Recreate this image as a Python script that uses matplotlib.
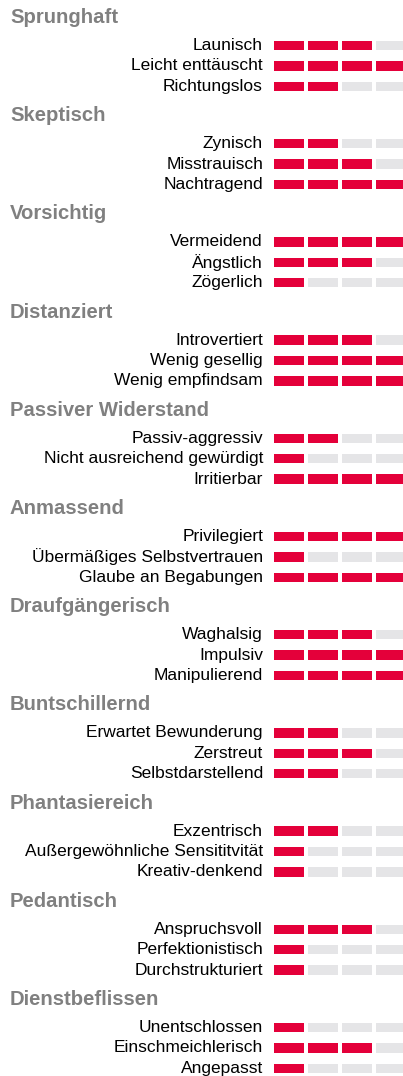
import matplotlib
matplotlib.use("Agg")
from matplotlib import pyplot as plt

groups = ["Sprunghaft", "Skeptisch", "Vorsichtig", "Distanziert", "Passiver Widerstand",
          "Anmassend", "Draufgängerisch", "Buntschillernd", "Phantasiereich",
          "Pedantisch", "Dienstbeflissen"]
items = [
    ["Launisch", "Leicht enttäuscht", "Richtungslos"],
    ["Zynisch", "Misstrauisch", "Nachtragend"],
    ["Vermeidend", "Ängstlich", "Zögerlich"],
    ["Introvertiert", "Wenig gesellig", "Wenig empfindsam"],
    ["Passiv-aggressiv", "Nicht ausreichend gewürdigt", "Irritierbar"],
    ["Privilegiert", "Übermäßiges Selbstvertrauen", "Glaube an Begabungen"],
    ["Waghalsig", "Impulsiv", "Manipulierend"],
    ["Erwartet Bewunderung", "Zerstreut", "Selbstdarstellend"],
    ["Exzentrisch", "Außergewöhnliche Sensititvität", "Kreativ-denkend"],
    ["Anspruchsvoll", "Perfektionistisch", "Durchstrukturiert"],
    ["Unentschlossen", "Einschmeichlerisch", "Angepasst"],
]
scores = [
    [3, 4, 2],
    [2, 3, 4],
    [4, 3, 1],
    [3, 4, 4],
    [2, 1, 4],
    [4, 1, 4],
    [3, 4, 4],
    [2, 3, 2],
    [2, 1, 1],
    [3, 1, 1],
    [1, 3, 1],
]
max_score = 4

RED = "#e4003a"
GREY = "#e5e5e7"
HEAD = "#808080"

plt.rcParams["font.family"] = ["Liberation Sans", "DejaVu Sans"]

fig = plt.figure(figsize=(4.03, 10.76), dpi=100)
ax = fig.add_axes([0, 0, 1, 1])
ax.set_xlim(0, 403)
ax.set_ylim(1076, 0)
ax.axis("off")

group_step = 98.2
seg_w, seg_pitch, x0 = 30, 34, 274

for g, name in enumerate(groups):
    yh = 17.5 + g * group_step
    ax.text(10, yh, name, fontsize=14.6, fontweight="bold", color=HEAD,
            ha="left", va="center")
    for i, (lab, s) in enumerate(zip(items[g], scores[g])):
        y = yh + 28 + i * 20.4
        ax.text(263, y, lab, fontsize=12.5, color="black", ha="right", va="center")
        for k in range(max_score):
            ax.barh(y, seg_w, height=9.5, left=x0 + k * seg_pitch,
                    color=RED if k < s else GREY)

fig.savefig("out.png", dpi=100)
